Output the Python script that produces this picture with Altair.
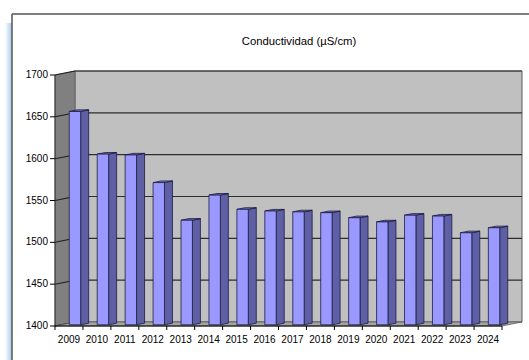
import altair as alt
import pandas as pd

# Conductividad media anual (µS/cm)
years = ["2009", "2010", "2011", "2012", "2013", "2014", "2015", "2016",
         "2017", "2018", "2019", "2020", "2021", "2022", "2023", "2024"]
conductividad = [1655, 1604, 1603, 1570, 1525, 1555, 1538, 1536,
                 1535, 1534, 1528, 1523, 1531, 1530, 1510, 1516]
y_ticks = [1400, 1450, 1500, 1550, 1600, 1650, 1700]

# Plot geometry (front plane of the 3D box)
W, H = 447, 251
N = len(years)
Y0, Y1 = 1400, 1700
PX_X = W / N                # pixels per category
PX_Y = H / (Y1 - Y0)        # pixels per µS/cm


def dx(px):
    return px / PX_X


def dy(px):
    return px / PX_Y


DEPTH_X, DEPTH_Y = 20, 4    # wall depth in pixels
HALF = 0.204                # half width of a bar front face (category units)
BF, BB = 6, 14              # bar front / back depth in pixels

xs = alt.Scale(domain=[0, N], nice=False, zero=False)
ys = alt.Scale(domain=[Y0, Y1], nice=False, zero=False)

FRONT = "#9999ff"
SIDE = "#5f5fa6"
TOP = "#7c7ccc"
EDGE = "#1c1c40"
FONT = "Liberation Sans"

# ---- box: back wall, side wall, floor ----
wall_df = pd.DataFrame([{"x": dx(DEPTH_X), "x2": N + dx(DEPTH_X),
                         "y": Y0 + dy(DEPTH_Y), "y2": Y1 + dy(DEPTH_Y)}])
back_wall = alt.Chart(wall_df).mark_rect(fill="#c0c0c0", stroke="#5a5a5a",
                                         strokeWidth=1).encode(
    x=alt.X("x:Q", scale=xs, axis=None), x2="x2:Q",
    y=alt.Y("y:Q", scale=ys, axis=None), y2="y2:Q")

grid_df = pd.DataFrame({"v": [t + dy(DEPTH_Y) for t in y_ticks[1:]],
                        "x": dx(DEPTH_X), "x2": N + dx(DEPTH_X)})
back_grid = alt.Chart(grid_df).mark_rule(color="#2e2e2e", strokeWidth=1.2).encode(
    x=alt.X("x:Q", scale=xs, axis=None), x2="x2:Q",
    y=alt.Y("v:Q", scale=ys, axis=None))

side_df = pd.DataFrame([
    {"x": 0, "y": Y1, "y2": Y0},
    {"x": dx(DEPTH_X), "y": Y1 + dy(DEPTH_Y), "y2": Y0 + dy(DEPTH_Y)},
])
side_wall = alt.Chart(side_df).mark_area(orient="vertical", fill="#808080",
                                         stroke="#555555", strokeWidth=0.6).encode(
    x=alt.X("x:Q", scale=xs, axis=None),
    y=alt.Y("y:Q", scale=ys, axis=None), y2="y2:Q")

side_grid_rows = []
for t in y_ticks:
    side_grid_rows.append({"t": t, "x": 0, "y": t})
    side_grid_rows.append({"t": t, "x": dx(DEPTH_X), "y": t + dy(DEPTH_Y)})
side_grid = alt.Chart(pd.DataFrame(side_grid_rows)).mark_line(
    color="#1e1e1e", strokeWidth=1.1).encode(
    x=alt.X("x:Q", scale=xs, axis=None),
    y=alt.Y("y:Q", scale=ys, axis=None),
    detail="t:N")

floor_df = pd.DataFrame([
    {"y": Y0, "x": 0, "x2": N},
    {"y": Y0 + dy(DEPTH_Y), "x": dx(DEPTH_X), "x2": N + dx(DEPTH_X)},
])
floor = alt.Chart(floor_df).mark_area(orient="horizontal", fill="#a4a4a4",
                                      stroke="#555555", strokeWidth=0.7).encode(
    y=alt.Y("y:Q", scale=ys, axis=None),
    x=alt.X("x:Q", scale=xs, axis=None), x2="x2:Q")

# ---- bars ----
front_rows, side_rows, top_rows = [], [], []
for i, (yr, v) in enumerate(zip(years, conductividad)):
    c = i + 0.5
    front_rows.append({"year": yr, "value": v,
                       "x": c - HALF + dx(BF), "x2": c + HALF + dx(BF),
                       "y": Y0 + dy(BF * DEPTH_Y / DEPTH_X),
                       "y2": v + dy(BF * DEPTH_Y / DEPTH_X)})
    for d in (BF, BB):
        side_rows.append({"year": yr, "x": c + HALF + dx(d),
                          "y": v + dy(d * DEPTH_Y / DEPTH_X),
                          "y2": Y0 + dy(d * DEPTH_Y / DEPTH_X)})
        top_rows.append({"year": yr, "y": v + dy(d * DEPTH_Y / DEPTH_X),
                         "x": c - HALF + dx(d), "x2": c + HALF + dx(d)})

bar_side = alt.Chart(pd.DataFrame(side_rows)).mark_area(
    orient="vertical", fill=SIDE, stroke=EDGE, strokeWidth=0.8).encode(
    x=alt.X("x:Q", scale=xs, axis=None),
    y=alt.Y("y:Q", scale=ys, axis=None), y2="y2:Q",
    detail="year:N")

bar_top = alt.Chart(pd.DataFrame(top_rows)).mark_area(
    orient="horizontal", fill=TOP, stroke=EDGE, strokeWidth=0.8).encode(
    y=alt.Y("y:Q", scale=ys, axis=None),
    x=alt.X("x:Q", scale=xs, axis=None), x2="x2:Q",
    detail="year:N")

bar_front = alt.Chart(pd.DataFrame(front_rows)).mark_rect(
    fill=FRONT, stroke=EDGE, strokeWidth=0.8).encode(
    x=alt.X("x:Q", scale=xs, axis=None), x2="x2:Q",
    y=alt.Y("y:Q", scale=ys, axis=None), y2="y2:Q")

# ---- axes: drawn as rules and text on the shared scales ----
yt_df = pd.DataFrame({"v": y_ticks, "label": [str(t) for t in y_ticks]})
y_tick_marks = alt.Chart(yt_df).mark_rule(color="#000000", strokeWidth=1).encode(
    x=alt.value(-5), x2=alt.value(0),
    y=alt.Y("v:Q", scale=ys, axis=None))
y_labels = alt.Chart(yt_df).mark_text(
    font=FONT, fontSize=10, color="#000000", align="right",
    baseline="middle").encode(
    x=alt.value(-7), y=alt.Y("v:Q", scale=ys, axis=None), text="label:N")
y_domain = alt.Chart(pd.DataFrame({"a": [Y0], "b": [Y1]})).mark_rule(
    color="#333333", strokeWidth=1).encode(
    x=alt.value(0), y=alt.Y("a:Q", scale=ys, axis=None), y2="b:Q")

xt_df = pd.DataFrame({"x": list(range(N + 1))})
x_tick_marks = alt.Chart(xt_df).mark_rule(color="#000000", strokeWidth=1).encode(
    x=alt.X("x:Q", scale=xs, axis=None),
    y=alt.value(H), y2=alt.value(H + 4))
x_domain = alt.Chart(pd.DataFrame({"a": [0], "b": [N]})).mark_rule(
    color="#000000", strokeWidth=1).encode(
    x=alt.X("a:Q", scale=xs, axis=None), x2="b:Q", y=alt.value(H))

year_labels = alt.Chart(pd.DataFrame({"year": years,
                                      "x": [i + 0.5 for i in range(N)]})).mark_text(
    font=FONT, fontSize=10, color="#000000", baseline="middle").encode(
    x=alt.X("x:Q", scale=xs, axis=None),
    y=alt.value(H + 14),
    text="year:N")

# ---- outer frame and title ----
one = alt.Data(values=[{}])
glow = alt.Chart(one).mark_rect(
    fill=alt.Gradient(gradient="linear", x1=0, x2=1, y1=0, y2=0,
                      stops=[alt.GradientStop(color="#ffffff", offset=0),
                             alt.GradientStop(color="#a9c8ea", offset=1)])).encode(
    x=alt.value(-50), x2=alt.value(-43), y=alt.value(-52), y2=alt.value(290))
frame_top = alt.Chart(one).mark_rule(color="#555555", strokeWidth=1.5).encode(
    x=alt.value(-43), x2=alt.value(480), y=alt.value(-61))
frame_left = alt.Chart(one).mark_rule(color="#555555", strokeWidth=1.5).encode(
    x=alt.value(-43), y=alt.value(-61), y2=alt.value(290))
title = alt.Chart(one).mark_text(font=FONT, fontSize=11.3,
                                 color="#000000", baseline="middle").encode(
    x=alt.value(244), y=alt.value(-33), text=alt.value("Conductividad (µS/cm)"))

chart = alt.layer(
    glow, frame_top, frame_left, title,
    back_wall, back_grid, side_wall, side_grid, floor,
    bar_side, bar_top, bar_front,
    y_domain, y_tick_marks, y_labels, x_domain, x_tick_marks, year_labels,
).properties(
    width=W, height=H,
    autosize=alt.AutoSizeParams(type="none"),
    padding={"left": 55, "top": 75, "right": 27, "bottom": 34},
    background="#ffffff",
).configure_view(stroke=None)

chart.save("out.html", embed_options={"renderer": "svg", "actions": False})
